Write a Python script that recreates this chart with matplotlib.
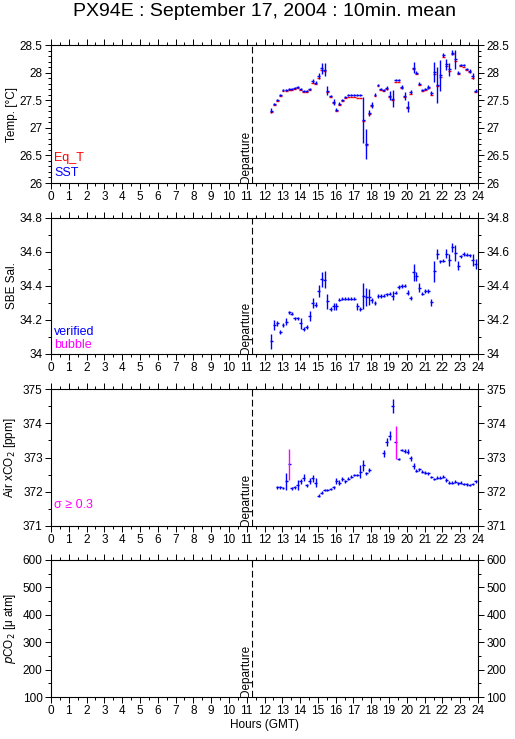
import numpy as np
import matplotlib
matplotlib.use("Agg")
import matplotlib.pyplot as plt
from matplotlib.ticker import MultipleLocator
import matplotlib.transforms as mtransforms

plt.rcParams['font.family'] = ['Liberation Sans', 'DejaVu Sans']

# 10 minute means, hours GMT
hours = [12.38, 12.54, 12.71, 12.88, 13.04, 13.21, 13.38, 13.54, 13.71, 13.88,
         14.04, 14.21, 14.38, 14.54, 14.71, 14.88, 15.04, 15.21, 15.38, 15.54,
         15.71, 15.88, 16.04, 16.21, 16.38, 16.54, 16.71, 16.88, 17.04, 17.21,
         17.38, 17.54, 17.71, 17.88, 18.04, 18.21, 18.38, 18.54, 18.71, 18.88,
         19.04, 19.21, 19.38, 19.54, 19.71, 19.88, 20.04, 20.21, 20.38, 20.54,
         20.71, 20.88, 21.04, 21.21, 21.38, 21.54, 21.71, 21.88, 22.04, 22.21,
         22.38, 22.54, 22.71, 22.88, 23.04, 23.21, 23.38, 23.54, 23.71, 23.88]

sst = [27.31, 27.43, 27.50, 27.60, 27.68, 27.68, 27.70, 27.71, 27.72, 27.74,
       27.71, 27.66, 27.66, 27.71, 27.85, 27.82, 27.94, 28.08, 28.05, 27.67,
       27.58, 27.47, 27.33, 27.44, 27.51, 27.56, 27.60, 27.60, 27.60, 27.59,
       27.59, 27.14, 26.70, 27.27, 27.41, 27.60, 27.78, 27.71, 27.69, 27.72,
       27.58, 27.53, 27.86, 27.86, 27.74, 27.57, 27.38, 27.65, 28.09, 28.00,
       27.80, 27.69, 27.71, 27.74, 27.63, 28.01, 27.78, 27.95, 28.32, 28.15,
       28.06, 28.36, 28.24, 28.00, 28.14, 28.14, 28.07, 28.03, 27.94, 27.67]
sst_sd = [0.04, 0.02, 0.02, 0.02, 0.02, 0.02, 0.02, 0.02, 0.02, 0.02,
          0.02, 0.02, 0.02, 0.02, 0.04, 0.02, 0.05, 0.10, 0.12, 0.08,
          0.02, 0.05, 0.03, 0.02, 0.02, 0.02, 0.02, 0.02, 0.02, 0.02,
          0.02, 0.42, 0.27, 0.06, 0.05, 0.03, 0.02, 0.02, 0.02, 0.03,
          0.08, 0.15, 0.02, 0.02, 0.03, 0.07, 0.10, 0.03, 0.10, 0.03,
          0.03, 0.02, 0.02, 0.03, 0.03, 0.18, 0.33, 0.28, 0.03, 0.10,
          0.12, 0.05, 0.17, 0.03, 0.02, 0.02, 0.02, 0.03, 0.06, 0.03]
eq_t = [27.29, 27.41, 27.48, 27.57, 27.66, 27.66, 27.68, 27.69, 27.70, 27.72,
        27.69, 27.64, 27.64, 27.69, 27.82, 27.79, 27.91, 28.05, 28.02, 27.65,
        27.55, 27.45, 27.31, 27.42, 27.49, 27.54, 27.55, 27.55, 27.55, 27.54,
        27.54, 27.13, 26.69, 27.25, 27.39, 27.57, 27.76, 27.69, 27.67, 27.70,
        27.56, 27.51, 27.83, 27.83, 27.72, 27.55, 27.36, 27.62, 28.06, 27.98,
        27.77, 27.67, 27.69, 27.72, 27.60, 27.97, 27.75, 27.92, 28.29, 28.12,
        28.03, 28.33, 28.21, 27.98, 28.12, 28.11, 28.05, 28.01, 27.91, 27.65]

sal = [34.075, 34.17, 34.18, 34.13, 34.17, 34.19, 34.245, 34.237, 34.21, 34.21,
       34.18, 34.147, 34.16, 34.225, 34.30, 34.29, 34.37, 34.44, 34.437, 34.31,
       34.265, 34.28, 34.28, 34.32, 34.325, 34.325, 34.325, 34.325, 34.325, 34.28,
       34.265, 34.34, 34.335, 34.335, 34.315, 34.30, 34.34, 34.34, 34.343, 34.35,
       34.355, 34.343, 34.36, 34.394, 34.40, 34.402, 34.36, 34.33, 34.48, 34.457,
       34.39, 34.355, 34.37, 34.37, 34.304, 34.486, 34.59, 34.545, 34.55, 34.59,
       34.555, 34.627, 34.594, 34.52, 34.574, 34.588, 34.584, 34.58, 34.555, 34.53]
sal_sd = [0.045, 0.03, 0.015, 0.01, 0.01, 0.02, 0.01, 0.01, 0.01, 0.01,
          0.03, 0.01, 0.01, 0.03, 0.03, 0.015, 0.035, 0.045, 0.05, 0.045,
          0.01, 0.02, 0.02, 0.01, 0.01, 0.01, 0.01, 0.01, 0.01, 0.02,
          0.01, 0.075, 0.055, 0.045, 0.015, 0.01, 0.01, 0.01, 0.01, 0.01,
          0.01, 0.025, 0.01, 0.01, 0.01, 0.01, 0.015, 0.01, 0.05, 0.025,
          0.025, 0.01, 0.01, 0.01, 0.02, 0.06, 0.03, 0.01, 0.01, 0.025,
          0.035, 0.025, 0.045, 0.025, 0.01, 0.01, 0.01, 0.01, 0.035, 0.03]

co2_hours = [12.71, 12.88, 13.04, 13.21, 13.38, 13.54, 13.71, 13.88, 14.04, 14.21,
             14.38, 14.54, 14.71, 14.88, 15.04, 15.21, 15.38, 15.54, 15.71, 15.88,
             16.04, 16.21, 16.38, 16.54, 16.71, 16.88, 17.04, 17.21, 17.38, 17.54,
             17.71, 17.88,
             18.71, 18.88, 19.04, 19.21, 19.38, 19.54, 19.71, 19.88, 20.04, 20.21,
             20.38, 20.54, 20.71, 20.88, 21.04, 21.21, 21.38, 21.54, 21.71, 21.88,
             22.04, 22.21, 22.38, 22.54, 22.71, 22.88, 23.04, 23.21, 23.38, 23.54,
             23.71, 23.88]
xco2 = [372.13, 372.13, 372.11, 372.31, 372.80, 372.10, 372.13, 372.19, 372.31, 372.41,
        372.19, 372.31, 372.39, 372.27, 371.89, 371.97, 372.05, 372.05, 372.08, 372.13,
        372.31, 372.27, 372.37, 372.31, 372.38, 372.44, 372.49, 372.49, 372.59, 372.78,
        372.54, 372.64,
        373.12, 373.46, 373.63, 374.50, 373.44, 372.96, 373.22, 373.19, 373.17, 372.98,
        372.75, 372.62, 372.65, 372.59, 372.56, 372.54, 372.44, 372.37, 372.41, 372.41,
        372.44, 372.34, 372.27, 372.27, 372.29, 372.25, 372.27, 372.23, 372.22, 372.20,
        372.23, 372.31]
xco2_sd = [0.04, 0.04, 0.04, 0.25, 0.46, 0.04, 0.04, 0.15, 0.07, 0.10,
           0.05, 0.08, 0.10, 0.12, 0.05, 0.04, 0.04, 0.04, 0.04, 0.04,
           0.08, 0.07, 0.06, 0.04, 0.04, 0.04, 0.04, 0.04, 0.18, 0.16,
           0.05, 0.05,
           0.10, 0.12, 0.13, 0.20, 0.48, 0.04, 0.04, 0.07, 0.08, 0.07,
           0.10, 0.05, 0.04, 0.04, 0.04, 0.04, 0.03, 0.04, 0.04, 0.04,
           0.04, 0.05, 0.04, 0.04, 0.04, 0.04, 0.05, 0.04, 0.04, 0.04,
           0.04, 0.04]

departure = 11.28
half = 1 / 12.0  # half of the 10 min averaging window

BLUE = '#0000ff'
RED = '#ff0000'
MAG = '#ff00ff'

fig = plt.figure(figsize=(5.15, 7.39), dpi=100)
left, width = 51 / 515, 427 / 515
panels = [(45, 183), (218, 354), (389, 526), (560, 697)]
axes = []
for top, bot in panels:
    ax = fig.add_axes([left, 1 - bot / 739, width, (bot - top) / 739])
    axes.append(ax)


def style(ax, lo, hi, major, minor, fmt=None):
    ax.set_xlim(0, 24)
    ax.set_ylim(lo, hi)
    ax.xaxis.set_major_locator(MultipleLocator(1))
    ax.xaxis.set_minor_locator(MultipleLocator(0.5))
    ax.yaxis.set_major_locator(MultipleLocator(major))
    ax.yaxis.set_minor_locator(MultipleLocator(minor))
    ax.tick_params(which='both', direction='out', top=True, right=True,
                   labelright=True, labelsize=8.5, width=0.7, pad=2)
    ax.tick_params(which='major', length=4)
    ax.tick_params(which='minor', length=2)
    for s in ax.spines.values():
        s.set_linewidth(0.8)
    if fmt:
        ax.yaxis.set_major_formatter(fmt)
    ax.axvline(departure, color='k', lw=0.8, ls=(0, (6, 3)), zorder=1)
    tr = mtransforms.blended_transform_factory(ax.transData, ax.transAxes)
    ax.text(departure, 0.0, 'Departure', rotation=90, ha='right', va='bottom',
            fontsize=8.5, transform=tr, zorder=3,
            bbox=dict(facecolor='white', edgecolor='none', pad=0.3))
    ax.yaxis.set_label_coords(-0.078, 0.5)


def fmt_g(v, pos):
    return '%g' % v


ek = dict(fmt='none', elinewidth=1.0, capsize=0, zorder=2)

# Temperature
ax = axes[0]
ax.errorbar(hours, eq_t, xerr=half, ecolor=RED, **ek)
ax.errorbar(hours, sst, xerr=half, yerr=sst_sd, ecolor=BLUE, **ek)
style(ax, 26, 28.5, 0.5, 0.1, plt.FuncFormatter(fmt_g))
ax.set_ylabel('Temp. [°C]', fontsize=8.5)
ax.text(0.008, 0.18, 'Eq_T', color=RED, fontsize=9, transform=ax.transAxes, va='center')
ax.text(0.008, 0.07, 'SST', color=BLUE, fontsize=9, transform=ax.transAxes, va='center')

# Salinity
ax = axes[1]
ax.errorbar(hours, sal, xerr=half, yerr=sal_sd, ecolor=BLUE, **ek)
style(ax, 34, 34.8, 0.2, 0.1, plt.FuncFormatter(fmt_g))
ax.set_ylabel('SBE Sal.', fontsize=8.5)
ax.text(0.008, 0.16, 'verified', color=BLUE, fontsize=9, transform=ax.transAxes, va='center')
ax.text(0.008, 0.066, 'bubble', color=MAG, fontsize=9, transform=ax.transAxes, va='center')

# Air xCO2
ax = axes[2]
co2_t = np.array(co2_hours)
co2_v = np.array(xco2)
co2_e = np.array(xco2_sd)
big = co2_e >= 0.3
ax.errorbar(co2_t, co2_v, xerr=half, ecolor=BLUE, **ek)
ax.errorbar(co2_t[~big], co2_v[~big], yerr=co2_e[~big], ecolor=BLUE, **ek)
ax.errorbar(co2_t[big], co2_v[big], yerr=co2_e[big], ecolor=MAG, **ek)
style(ax, 371, 375, 1, 0.5, plt.FuncFormatter(fmt_g))
ax.set_ylabel('Air xCO$_2$ [ppm]', fontsize=8.5)
ax.text(0.008, 0.153, 'σ ≥ 0.3', color=MAG, fontsize=9, transform=ax.transAxes, va='center')

# pCO2 (no data)
ax = axes[3]
style(ax, 100, 600, 100, 50)
ax.set_ylabel('$p$CO$_2$ [μ atm]', fontsize=8.5)
ax.set_xlabel('Hours (GMT)', fontsize=8.5, labelpad=1)

fig.text(0.514, 0.984, 'PX94E : September 17, 2004 : 10min. mean',
         ha='center', va='center', fontsize=14)

fig.savefig('out.png', dpi=100)
